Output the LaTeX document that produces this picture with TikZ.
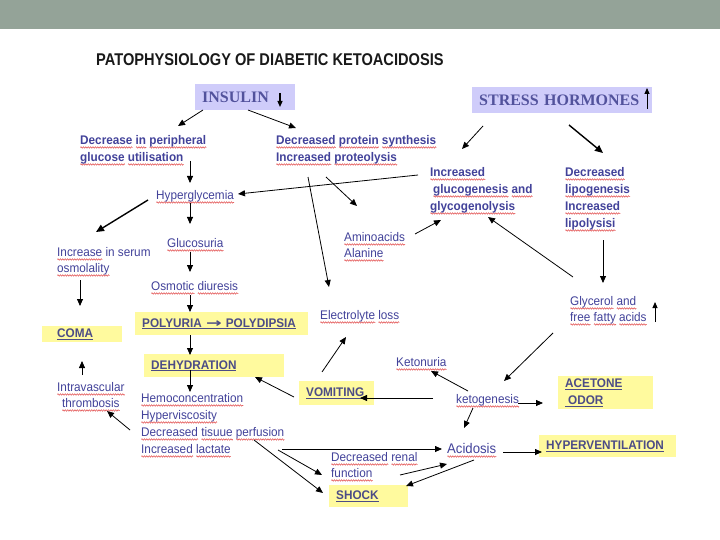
\documentclass[tikz,border=0pt]{standalone}
\usepackage{fontspec}
\setmainfont{Liberation Sans}[FakeStretch=0.94]
\newfontfamily\titlefont{Liberation Sans}[FakeStretch=0.86]
\newfontfamily\hormfont{Liberation Serif}
\newfontfamily\symfont{DejaVu Sans}
\usetikzlibrary{arrows.meta,calc,decorations.pathmorphing}
\definecolor{band}{HTML}{94A398}
\definecolor{tblue}{HTML}{42429A}
\definecolor{boxtext}{HTML}{4C4C86}
\definecolor{yel}{HTML}{FFFA9E}
\definecolor{lav}{HTML}{CFCCFA}
\definecolor{horm}{HTML}{52529C}
\definecolor{squig}{HTML}{E04040}
\newlength\sqwd
\newcommand\sq[1]{\settowidth\sqwd{#1}\leavevmode\rlap{\raisebox{-3.2pt}[0pt][0pt]{\tikz[x=1pt,y=1pt,baseline=0pt]\draw[squig,line width=0.45pt,decorate,decoration={zigzag,amplitude=0.8pt,segment length=2.4pt}] (0,0) -- (\the\sqwd,0);}}#1}
\begin{document}
\begin{tikzpicture}[x=1pt,y=-1pt,
  txt/.style={anchor=north west, inner sep=0pt, text=tblue, align=left, font=\fontsize{12.5}{16}\selectfont},
  btxt/.style={txt, font=\bfseries\fontsize{12.5}{17}\selectfont},
  ybox/.style={fill=yel, anchor=north west, inner ysep=0pt, inner xsep=7pt, text=boxtext, align=left, font=\bfseries\fontsize{12.5}{17}\selectfont},
  lbox/.style={fill=lav, anchor=north west, inner ysep=0pt, inner xsep=7pt, text=horm, align=left, font=\hormfont\bfseries\fontsize{16}{18}\selectfont},
  arr/.style={-{Triangle[length=7pt,width=6pt]}, line width=0.8pt, black},
  harr/.style={arr, line width=1.4pt, -{Triangle[length=8pt,width=7pt]}},
  sym/.style={-{Triangle[length=6pt,width=5pt]}, line width=1.2pt, black}
]
\useasboundingbox (0,0) rectangle (720,540);
\fill[white] (0,0) rectangle (720,540);
\fill[band] (0,0) rectangle (720,29);

% title
\node[anchor=north west, inner sep=0pt, text=black!90, font=\titlefont\bfseries\fontsize{17}{20}\selectfont] (title) at (96,53) {PATOPHYSIOLOGY OF DIABETIC KETOACIDOSIS};

% hormone boxes
\node[lbox, minimum width=100pt, minimum height=26pt, text width=86pt] (ins) at (195,84) {INSULIN};
\node[lbox, minimum width=180pt, minimum height=26pt, text width=166pt] (stress) at (472,87) {STRESS HORMONES};
\draw[sym] ([shift={(85,9)}]ins.north west) -- ([shift={(85,23)}]ins.north west);
\draw[sym, line width=0.9pt] ([shift={(175,22)}]stress.north west) -- ([shift={(175,1)}]stress.north west);

% text nodes
\node[btxt] (dec) at (80,135) {\sq{Decrease} \sq{in} \sq{peripheral}\\\sq{glucose} \sq{utilisation}};
\node[btxt] (prot) at (276,135) {\sq{Decreased} \sq{protein} \sq{synthesis}\\\sq{Increased} \sq{proteolysis}};
\node[txt] (hyper) at (156,190) {\sq{Hyperglycemia}};
\node[txt] (gluco) at (167,238) {\sq{Glucosuria}};
\node[txt] (osm) at (151,281) {\sq{Osmotic} \sq{diuresis}};
\node[txt] (serum) at (57,247) {\sq{Increase} in serum\\\sq{osmolality}};
\node[txt, font=\fontsize{12.5}{17}\selectfont] (hemo) at (141,393) {\sq{Hemoconcentration}\\\sq{Hyperviscosity}\\\sq{Decreased} \sq{tisuue} \sq{perfusion}\\\sq{Increased} \sq{lactate}};
\node[txt, align=center] (thromb) at (57,382) {\sq{Intravascular}\\\sq{thrombosis}};
\node[txt] (amino) at (344,232) {\sq{Aminoacids}\\\sq{Alanine}};
\node[txt] (elec) at (320,310) {\sq{Electrolyte} \sq{loss}};
\node[btxt] (incg) at (430,167) {\sq{Increased}\\\hspace*{3pt}\sq{glucogenesis} \sq{and}\\\sq{glycogenolysis}};
\node[btxt] (declip) at (565,167) {\sq{Decreased}\\\sq{lipogenesis}\\\sq{Increased}\\\sq{lipolysisi}};
\node[txt] (glyc) at (570,296) {\sq{Glycerol} \sq{and}\\\sq{free} \sq{fatty} \sq{acids}};
\draw[sym, line width=0.9pt] ([shift={(85,26)}]glyc.north west) -- ([shift={(85,6)}]glyc.north west);
\node[txt] (ketonuria) at (396,357) {\sq{Ketonuria}};
\node[txt] (keto) at (456,394) {\sq{ketogenesis}};
\node[txt, font=\fontsize{14}{16}\selectfont] (acid) at (447,443) {\sq{Acidosis}};
\node[txt] (renal) at (331,452) {\sq{Decreased} \sq{renal}\\\sq{function}};

% yellow boxes
\node[ybox, minimum width=173pt, minimum height=23pt, text width=159pt] (poly) at (135,312) {\underline{POLYURIA \scalebox{1.5}[1]{\symfont →} POLYDIPSIA}};
\node[ybox, minimum width=140pt, minimum height=23pt, text width=126pt] (dehyd) at (144,354) {\underline{DEHYDRATION}};
\node[ybox, minimum width=80pt, minimum height=16pt, inner xsep=15pt, text width=50pt] (coma) at (42,326) {\underline{COMA}};
\node[ybox, minimum width=75pt, minimum height=24pt, text width=61pt] (vom) at (299,381) {\underline{VOMITING}};
\node[ybox, minimum width=95pt, minimum height=33pt, text width=81pt] (acet) at (558,376) {\underline{ACETONE}\\\underline{\hspace*{3pt}ODOR}};
\node[ybox, minimum width=137pt, minimum height=22pt, text width=123pt] (hyperv) at (539,435) {\underline{HYPERVENTILATION}};
\node[ybox, minimum width=79pt, minimum height=22pt, text width=65pt] (shock) at (329,485) {\underline{SHOCK}};

% connectors
\draw[arr] ([shift={(8,26)}]ins.north west) -- ([shift={(98,-9)}]dec.north west);
\draw[arr] ([shift={(53,26)}]ins.north west) -- ([shift={(20,-7)}]prot.north west);
\draw[arr] ([shift={(110,26)}]dec.north west) -- ([shift={(34,-7)}]hyper.north west);
\draw[arr] ([shift={(-12,8)}]incg.north west) -- ([shift={(82,4)}]hyper.north west);
\draw[harr] ([shift={(-8,10)}]hyper.north west) -- ([shift={(39,-15)}]serum.north west);
\draw[arr] ([shift={(34,13)}]hyper.north west) -- ([shift={(23,-14)}]gluco.north west);
\draw[arr] ([shift={(23,14)}]gluco.north west) -- ([shift={(39,-9)}]osm.north west);
\draw[arr] ([shift={(39,14)}]osm.north west) -- ([shift={(55,0)}]poly.north west);
\draw[arr] ([shift={(23,33)}]serum.north west) -- ([shift={(38,-20)}]coma.north west);
\draw[arr] ([shift={(55,23)}]poly.north west) -- ([shift={(46,1)}]dehyd.north west);
\draw[arr] ([shift={(46,16)}]dehyd.north west) -- ([shift={(49,-1)}]hemo.north west);
\draw[arr] ([shift={(-11,37)}]hemo.north west) -- ([shift={(50,29)}]thromb.north west);
\draw[arr] ([shift={(25,-7)}]thromb.north west) -- ([shift={(40,35)}]coma.north west);
\draw[arr] ([shift={(-5,16)}]vom.north west) -- ([shift={(111,23)}]dehyd.north west);
\draw[arr] ([shift={(23,-9)}]vom.north west) -- ([shift={(26,27)}]elec.north west);
\draw[arr] ([shift={(-23,4)}]keto.north west) -- ([shift={(61,17)}]vom.north west);
\draw[arr] ([shift={(12,-3)}]keto.north west) -- ([shift={(35,14)}]ketonuria.north west);
\draw[arr] ([shift={(62,9)}]keto.north west) -- ([shift={(-15,27)}]acet.north west);
\draw[arr] ([shift={(17,14)}]keto.north west) -- ([shift={(17,-15)}]acid.north west);
\draw[arr] ([shift={(-17,37)}]glyc.north west) -- ([shift={(48,-13)}]keto.north west);
\draw[arr] ([shift={(3,-19)}]glyc.north west) -- ([shift={(58,50)}]incg.north west);
\draw[arr] ([shift={(38,73)}]declip.north west) -- ([shift={(33,-13)}]glyc.north west);
\draw[arr] ([shift={(11,39)}]stress.north west) -- ([shift={(32,-18)}]incg.north west);
\draw[harr] ([shift={(97,38)}]stress.north west) -- ([shift={(38,-14)}]declip.north west);
\draw[arr] ([shift={(71,2)}]amino.north west) -- ([shift={(11,53)}]incg.north west);
\draw[arr] ([shift={(50,42)}]prot.north west) -- ([shift={(13,-26)}]amino.north west);
\draw[arr] ([shift={(32,42)}]prot.north west) -- ([shift={(9,-23)}]elec.north west);
\draw[arr] ([shift={(141,56)}]hemo.north west) -- ([shift={(-5,6)}]acid.north west);
\draw[arr] ([shift={(137,57)}]hemo.north west) -- ([shift={(-9,23)}]renal.north west);
\draw[arr] ([shift={(113,47)}]hemo.north west) -- ([shift={(-6,8)}]shock.north west);
\draw[arr] ([shift={(69,23)}]renal.north west) -- ([shift={(0,21)}]acid.north west);
\draw[arr] ([shift={(27,17)}]acid.north west) -- ([shift={(77,1)}]shock.north west);
\draw[arr] ([shift={(56,9)}]acid.north west) -- ([shift={(3,17)}]hyperv.north west);
\end{tikzpicture}
\end{document}
